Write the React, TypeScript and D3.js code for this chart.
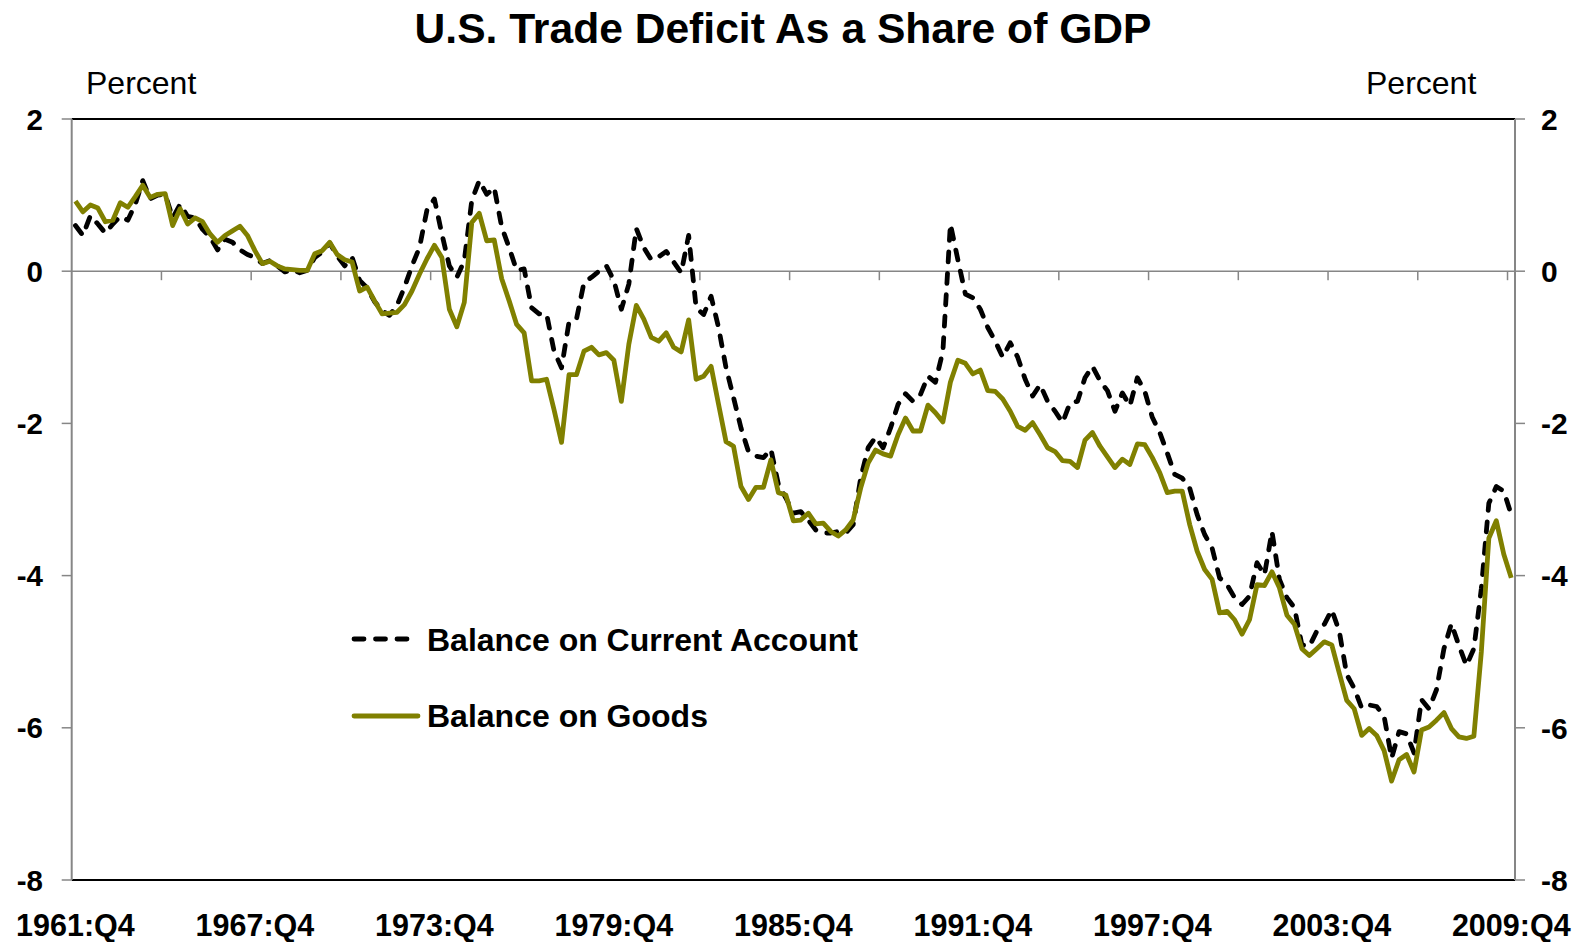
import React from 'react';
import * as d3 from 'd3';

// quarters 1961:Q4 .. 2009:Q4
const quarters: string[] = [];
for (let yr = 1961, q = 4; ; ) {
  quarters.push(`${yr}:Q${q}`);
  if (yr === 2009 && q === 4) break;
  q++;
  if (q > 4) { q = 1; yr++; }
}

const tickLabels = ['1961:Q4', '1967:Q4', '1973:Q4', '1979:Q4', '1985:Q4', '1991:Q4', '1997:Q4', '2003:Q4', '2009:Q4'];
const yTicks = [-8, -6, -4, -2, 0, 2];

// Balance on Current Account, % of GDP
const currentAccount = [
  0.60, 0.47, 0.73, 0.62, 0.50, 0.62, 0.72, 0.67, 0.88, 1.19,
  0.95, 1.00, 1.01, 0.70, 0.88, 0.72, 0.70, 0.55, 0.45, 0.28,
  0.42, 0.38, 0.28, 0.22, 0.18, 0.10, 0.14, 0.07, -0.01, 0.02,
  -0.02, 0.01, 0.18, 0.25, 0.37, 0.20, 0.07, 0.18, -0.12, -0.22,
  -0.40, -0.52, -0.58, -0.45, -0.21, 0.07, 0.31, 0.80, 0.95, 0.49,
  0.07, -0.08, 0.14, 0.93, 1.19, 1.01, 1.10, 0.58, 0.31, 0.01,
  0.03, -0.48, -0.56, -0.56, -1.05, -1.27, -0.67, -0.63, -0.15, -0.08,
  0.00, 0.07, -0.12, -0.50, -0.17, 0.56, 0.31, 0.15, 0.19, 0.26,
  0.12, -0.02, 0.47, -0.48, -0.57, -0.33, -0.74, -1.27, -1.66, -2.06,
  -2.37, -2.43, -2.45, -2.34, -2.80, -2.98, -3.18, -3.16, -3.27, -3.40,
  -3.44, -3.44, -3.42, -3.44, -3.33, -2.72, -2.32, -2.18, -2.32, -2.06,
  -1.75, -1.61, -1.71, -1.62, -1.38, -1.46, -1.05, 0.62, 0.15, -0.30,
  -0.35, -0.50, -0.74, -0.92, -1.13, -0.94, -1.13, -1.42, -1.64, -1.49,
  -1.71, -1.84, -1.99, -1.73, -1.71, -1.40, -1.25, -1.44, -1.57, -1.84,
  -1.60, -1.77, -1.40, -1.58, -1.92, -2.12, -2.39, -2.67, -2.72, -2.85,
  -3.20, -3.46, -3.64, -4.03, -4.12, -4.29, -4.38, -4.27, -3.83, -3.99,
  -3.42, -4.05, -4.29, -4.42, -4.91, -4.93, -4.73, -4.64, -4.45, -4.73,
  -5.30, -5.48, -5.74, -5.70, -5.72, -5.85, -6.40, -6.05, -6.08, -6.33,
  -5.63, -5.75, -5.50, -4.96, -4.63, -4.92, -5.18, -4.96, -4.17, -3.05,
  -2.83, -2.89, -3.20,
];

// Balance on Goods, % of GDP
const goods = [
  0.92, 0.78, 0.87, 0.83, 0.65, 0.67, 0.90, 0.84, 0.98, 1.13,
  0.97, 1.01, 1.02, 0.60, 0.82, 0.62, 0.70, 0.65, 0.49, 0.38,
  0.47, 0.53, 0.59, 0.47, 0.27, 0.10, 0.13, 0.07, 0.03, 0.02,
  0.01, 0.01, 0.23, 0.27, 0.38, 0.22, 0.15, 0.12, -0.26, -0.21,
  -0.39, -0.56, -0.55, -0.54, -0.44, -0.26, -0.04, 0.16, 0.34, 0.18,
  -0.50, -0.73, -0.41, 0.64, 0.76, 0.40, 0.41, -0.10, -0.39, -0.70,
  -0.81, -1.44, -1.44, -1.42, -1.82, -2.25, -1.36, -1.36, -1.05, -1.00,
  -1.10, -1.07, -1.17, -1.71, -0.96, -0.45, -0.63, -0.87, -0.92, -0.81,
  -1.00, -1.06, -0.64, -1.42, -1.38, -1.25, -1.75, -2.24, -2.30, -2.83,
  -3.00, -2.84, -2.84, -2.48, -2.91, -2.94, -3.28, -3.27, -3.18, -3.32,
  -3.31, -3.42, -3.48, -3.40, -3.27, -2.85, -2.52, -2.35, -2.40, -2.43,
  -2.15, -1.93, -2.10, -2.10, -1.76, -1.86, -1.98, -1.46, -1.17, -1.21,
  -1.35, -1.30, -1.57, -1.58, -1.68, -1.84, -2.04, -2.09, -1.99, -2.15,
  -2.32, -2.37, -2.49, -2.50, -2.58, -2.22, -2.12, -2.30, -2.44, -2.58,
  -2.47, -2.54, -2.27, -2.28, -2.45, -2.65, -2.91, -2.89, -2.89, -3.33,
  -3.68, -3.92, -4.05, -4.49, -4.47, -4.58, -4.77, -4.58, -4.12, -4.13,
  -3.95, -4.16, -4.52, -4.64, -4.96, -5.05, -4.96, -4.87, -4.91, -5.28,
  -5.64, -5.75, -6.10, -6.01, -6.10, -6.30, -6.70, -6.42, -6.35, -6.58,
  -6.03, -5.99, -5.90, -5.80, -6.01, -6.12, -6.14, -6.11, -5.00, -3.51,
  -3.28, -3.72, -4.03,
];

const W = 1586;
const H = 942;
const FONT = '"Liberation Sans", Arial, Helvetica, sans-serif';
const OLIVE = '#808000';
const GRAY = '#868686';

const App = () => {
  const x = d3.scaleBand<string>().domain(quarters).range([71.7, 1515]);
  const y = d3.scaleLinear().domain([-8, 2]).range([880, 119]);
  const cx = (i: number) => (x(quarters[i]) as number) + x.bandwidth() / 2;

  const line = d3.line<number>().x((_, i) => cx(i)).y(d => y(d));

  // category ticks every 12 quarters on the zero line
  const catTicks = d3.range(12, quarters.length, 12).map(i => x(quarters[i]) as number);

  const left = 71.7;
  const right = 1515;

  return (
    <div style={{ position: 'absolute', left: 0, top: 0 }}>
      <svg width={W} height={H} style={{ display: 'block', background: '#fff' }} fontFamily={FONT}>
        <text x={783} y={42.5} textAnchor="middle" fontSize={42.6} fontWeight="bold">
          U.S. Trade Deficit As a Share of GDP
        </text>
        <text x={86} y={94} fontSize={32}>Percent</text>
        <text x={1366} y={94} fontSize={32}>Percent</text>

        {/* plot border */}
        <line x1={left} x2={right} y1={y(2)} y2={y(2)} stroke="#000" strokeWidth={2} />
        <line x1={left} x2={right} y1={y(-8)} y2={y(-8)} stroke="#000" strokeWidth={2} />

        {/* zero line */}
        <line x1={left} x2={right} y1={y(0)} y2={y(0)} stroke={GRAY} strokeWidth={1.5} />
        {catTicks.map((t, k) => (
          <line key={k} x1={t} x2={t} y1={y(0)} y2={y(0) + 9} stroke={GRAY} strokeWidth={1.5} />
        ))}

        {/* y axes */}
        <line x1={left} x2={left} y1={y(2)} y2={y(-8)} stroke={GRAY} strokeWidth={2} />
        <line x1={right} x2={right} y1={y(2)} y2={y(-8)} stroke={GRAY} strokeWidth={2} />
        {yTicks.map(t => (
          <g key={t}>
            <line x1={left - 10} x2={left} y1={y(t)} y2={y(t)} stroke={GRAY} strokeWidth={1.5} />
            <line x1={right} x2={right + 10} y1={y(t)} y2={y(t)} stroke={GRAY} strokeWidth={1.5} />
            <text x={43} y={y(t)} dy="0.36em" textAnchor="end" fontSize={29.5} fontWeight="bold">{t}</text>
            <text x={1541} y={y(t)} dy="0.36em" textAnchor="start" fontSize={30} fontWeight="bold">{t}</text>
          </g>
        ))}

        {/* x labels */}
        {tickLabels.map(lab => (
          <text key={lab} x={cx(quarters.indexOf(lab))} y={935.5} textAnchor="middle" fontSize={30.5} fontWeight="bold">
            {lab}
          </text>
        ))}

        {/* series */}
        <path d={line(currentAccount) || ''} fill="none" stroke="#000" strokeWidth={4.8}
          strokeDasharray="10,11.5" strokeLinecap="round" strokeLinejoin="round" />
        <path d={line(goods) || ''} fill="none" stroke={OLIVE} strokeWidth={4.8} strokeLinejoin="round" />

        {/* legend */}
        <line x1={354} x2={408} y1={639} y2={639} stroke="#000" strokeWidth={4.8}
          strokeDasharray="10,11.5" strokeLinecap="round" />
        <text x={427} y={650.5} fontSize={32} fontWeight="bold">Balance on Current Account</text>
        <line x1={354} x2={418} y1={716} y2={716} stroke={OLIVE} strokeWidth={4.8} strokeLinecap="round" />
        <text x={427} y={727} fontSize={32} fontWeight="bold">Balance on Goods</text>
      </svg>
    </div>
  );
};

export default App;
